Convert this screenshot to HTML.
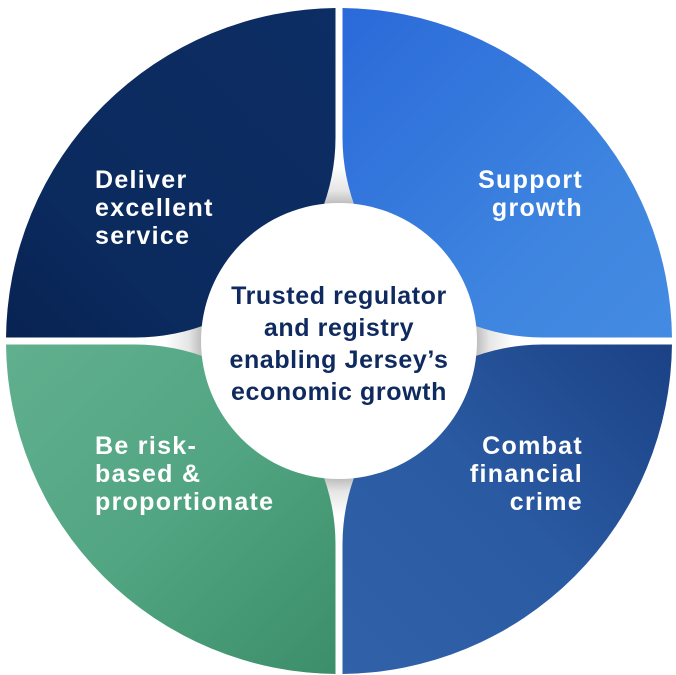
<!DOCTYPE html>
<html><head><meta charset="utf-8"><style>
html,body{margin:0;padding:0;background:#fff;}
svg{display:block}
text{font-family:"Liberation Sans",sans-serif;font-weight:bold;}
</style></head><body>
<svg width="676" height="675" viewBox="0 0 676 675" xmlns="http://www.w3.org/2000/svg">
<defs>
<clipPath id="ctl"><rect x="-1000" y="-1000" width="1335.5" height="1337.5" rx="200"/></clipPath>
<clipPath id="ctr"><rect x="342.5" y="-1000" width="1335.5" height="1337.5" rx="200"/></clipPath>
<clipPath id="cbl"><rect x="-1000" y="344.5" width="1335.5" height="1337.5" rx="200"/></clipPath>
<clipPath id="cbr"><rect x="342.5" y="344.5" width="1335.5" height="1337.5" rx="200"/></clipPath>
<linearGradient id="gtl" x1="1" y1="0" x2="0" y2="1"><stop offset="0" stop-color="#0e3068"/><stop offset="0.6" stop-color="#0b2a5e"/><stop offset="1" stop-color="#031640"/></linearGradient>
<linearGradient id="gtr" x1="0" y1="0" x2="1" y2="1"><stop offset="0" stop-color="#1b55d4"/><stop offset="0.6" stop-color="#3f86e0"/><stop offset="1" stop-color="#4b92e6"/></linearGradient>
<linearGradient id="gbr" x1="0" y1="1" x2="1" y2="0"><stop offset="0" stop-color="#3668b0"/><stop offset="0.5" stop-color="#2a5aa2"/><stop offset="1" stop-color="#0c2868"/></linearGradient>
<linearGradient id="gbl" x1="0" y1="0" x2="1" y2="1"><stop offset="0" stop-color="#6fbb9c"/><stop offset="0.5" stop-color="#52a582"/><stop offset="1" stop-color="#24774f"/></linearGradient>
<radialGradient id="sh" cx="339" cy="341" r="175" gradientUnits="userSpaceOnUse"><stop offset="0.77" stop-color="#b4b4b4"/><stop offset="0.86" stop-color="#e6e6e6"/><stop offset="1" stop-color="#ffffff"/></radialGradient>
</defs>
<circle cx="339" cy="341" r="175" fill="url(#sh)"/>
<circle cx="339" cy="341" r="333" fill="url(#gtl)" clip-path="url(#ctl)"/>
<circle cx="339" cy="341" r="333" fill="url(#gtr)" clip-path="url(#ctr)"/>
<circle cx="339" cy="341" r="333" fill="url(#gbl)" clip-path="url(#cbl)"/>
<circle cx="339" cy="341" r="333" fill="url(#gbr)" clip-path="url(#cbr)"/>
<circle cx="339" cy="341" r="138" fill="#fff"/>
<g fill="#fff" font-size="25" letter-spacing="1.3">
<text x="95" y="188">Deliver</text>
<text x="95" y="216">excellent</text>
<text x="95" y="244">service</text>
<text x="583" y="188" text-anchor="end">Support</text>
<text x="583" y="216" text-anchor="end">growth</text>
<text x="95" y="454">Be risk-</text>
<text x="95" y="482">based &amp;</text>
<text x="95" y="510">proportionate</text>
<text x="583" y="454" text-anchor="end">Combat</text>
<text x="583" y="482" text-anchor="end">financial</text>
<text x="583" y="510" text-anchor="end">crime</text>
</g>
<g fill="#0f2a5e" font-size="25" text-anchor="middle" letter-spacing="0.6">
<text x="339" y="304">Trusted regulator</text>
<text x="339" y="336">and registry</text>
<text x="339" y="368">enabling Jersey’s</text>
<text x="339" y="400">economic growth</text>
</g>
</svg>
</body></html>
